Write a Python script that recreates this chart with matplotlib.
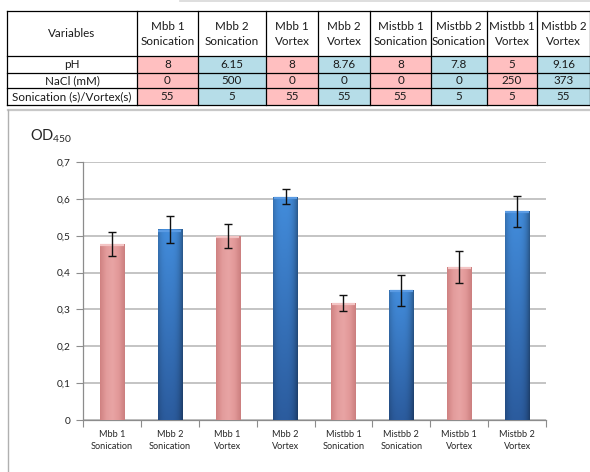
import numpy as np
import matplotlib
matplotlib.use("Agg")
import matplotlib.pyplot as plt
from matplotlib.patches import Rectangle
from matplotlib.colors import LinearSegmentedColormap

plt.rcParams['font.family'] = ['Lato', 'DejaVu Sans']
plt.rcParams['mathtext.default'] = 'regular'

# ---- data ----
strains = ["Mbb 1", "Mbb 2", "Mbb 1", "Mbb 2", "Mistbb 1", "Mistbb 2", "Mistbb 1", "Mistbb 2"]
methods = ["Sonication", "Sonication", "Vortex", "Vortex", "Sonication", "Sonication", "Vortex", "Vortex"]
ph = ["8", "6.15", "8", "8.76", "8", "7.8", "5", "9.16"]
nacl = ["0", "500", "0", "0", "0", "0", "250", "373"]
duration = ["55", "5", "55", "55", "55", "5", "5", "55"]
row_names = ["pH", "NaCl (mM)", "Sonication (s)/Vortex(s)"]
od450 = [0.478, 0.517, 0.499, 0.606, 0.318, 0.352, 0.416, 0.567]
od_err = [0.033, 0.036, 0.032, 0.021, 0.021, 0.042, 0.043, 0.042]
yticks = [0, 0.1, 0.2, 0.3, 0.4, 0.5, 0.6, 0.7]

W, H = 590, 472
fig = plt.figure(figsize=(W / 100, H / 100), dpi=100)
fig.patch.set_facecolor("white")

# ---- overlay axes in pixel coordinates (table + chart frame) ----
bg = fig.add_axes([0, 0, 1, 1])
bg.set_xlim(0, W)
bg.set_ylim(H, 0)
bg.axis("off")

col_edges = [7, 137, 198, 266, 318, 370, 431, 487, 537, 590]
row_edges = [11, 56, 73, 88, 105]
pink_cell = "#FFBFC0"
blue_cell = "#B6DDE8"
txt_col = "#1A1A1A"
fs_tab = 8.4

# header row
bg.text((col_edges[0] + col_edges[1]) / 2, (row_edges[0] + row_edges[1]) / 2, "Variables",
        ha="center", va="center", fontsize=fs_tab, color=txt_col)
for i in range(8):
    cx = (col_edges[i + 1] + col_edges[i + 2]) / 2
    bg.text(cx, (row_edges[0] + row_edges[1]) / 2 + 0.5, f"{strains[i]}\n{methods[i]}",
            ha="center", va="center", fontsize=fs_tab, color=txt_col, linespacing=1.45)

# body rows
rows = [ph, nacl, duration]
for r, vals in enumerate(rows):
    y0, y1 = row_edges[r + 1], row_edges[r + 2]
    bg.text((col_edges[0] + col_edges[1]) / 2, (y0 + y1) / 2 + 0.5, row_names[r],
            ha="center", va="center", fontsize=fs_tab, color=txt_col)
    for i, v in enumerate(vals):
        x0, x1 = col_edges[i + 1], col_edges[i + 2]
        bg.add_patch(Rectangle((x0, y0), x1 - x0, y1 - y0,
                               facecolor=pink_cell if i % 2 == 0 else blue_cell,
                               edgecolor="none", zorder=1))
        bg.text((x0 + x1) / 2, (y0 + y1) / 2 + 0.5, v, ha="center", va="center",
                fontsize=fs_tab, color=txt_col, zorder=3)

# table grid lines
for x in col_edges:
    bg.plot([x, x], [row_edges[0], row_edges[-1]], color="black", lw=0.9, zorder=2)
for y in row_edges:
    bg.plot([col_edges[0], col_edges[-1]], [y, y], color="black", lw=0.9, zorder=2)
bg.plot([180, W], [1, 1], color="#D8D8D8", lw=1.2)

# chart frame
bg.plot([8, W], [109.5, 109.5], color="#C8C8C8", lw=1.6)
bg.plot([8, 8], [109.5, H], color="#B0B0B0", lw=1.0)

# y label
bg.text(30, 136, "OD$_{450}$", ha="left", va="center", fontsize=10.5, color="#262626")

# ---- bar chart ----
L, R, T, B = 83, 546, 162, 420
ax = fig.add_axes([L / W, (H - B) / H, (R - L) / W, (B - T) / H])
ax.set_xlim(-0.5, 7.5)
ax.set_ylim(0, 0.7)
ax.set_facecolor("none")

x = np.arange(len(od450))
colors = ["#E39A9A" if i % 2 == 0 else "#3A7BCB" for i in range(len(od450))]
bars = ax.bar(x, od450, width=0.42, color=colors, edgecolor="none", zorder=3)

pink_cmap = LinearSegmentedColormap.from_list(
    "pinkbar", ["#D08282", "#E39C9C", "#E8A4A4", "#E29999", "#CC8080"])
blue_top = np.array([0.26, 0.55, 0.86])
blue_bot = np.array([0.17, 0.36, 0.62])

for i, b in enumerate(bars):
    bx, bw, bh = b.get_x(), b.get_width(), b.get_height()
    nx, ny = 40, 60
    u = np.linspace(0, 1, nx)
    edge = 1 - 0.35 * (np.abs(u - 0.45) / 0.55) ** 3
    if i % 2 == 0:
        img = pink_cmap(np.tile(u, (ny, 1)))
    else:
        v = np.linspace(0, 1, ny)[:, None]
        base = blue_bot + (blue_top - blue_bot) * v[..., None]
        img = np.clip(base * edge[None, :, None], 0, 1)
        img = np.concatenate([img, np.ones((ny, nx, 1))], axis=2)
    im = ax.imshow(img, extent=[bx, bx + bw, 0, bh], origin="lower",
                   aspect="auto", zorder=3.5, interpolation="bilinear")
    im.set_clip_path(b)
    # light cap at the top of each bar
    cap = "#F3C4C4" if i % 2 == 0 else "#5B9BE3"
    ax.plot([bx + 0.01, bx + bw - 0.01], [bh - 0.003, bh - 0.003], color=cap, lw=1.6,
            zorder=3.6, solid_capstyle="butt")

ax.errorbar(x, od450, yerr=od_err, fmt="none", ecolor="#111111", elinewidth=1.0,
            capsize=3.2, capthick=1.0, zorder=5)

ax.set_yticks(yticks)
ax.set_yticklabels([("%.1f" % t).replace(".", ",") if t else "0" for t in yticks],
                   fontsize=7.3, color="#222222")
ax.yaxis.grid(True, color="#B4B4B4", lw=1.1, zorder=0)
ax.set_axisbelow(True)

ax.set_xticks(np.arange(-0.5, 8.0, 1.0))
ax.set_xticklabels([])
ax.set_xticks(x, minor=True)
ax.set_xticklabels([f"{s}\n{m}" for s, m in zip(strains, methods)], minor=True,
                   fontsize=6.6, color="#262626", linespacing=1.45)
ax.tick_params(axis="x", which="major", length=5, color="#8C8C8C", width=0.8)
ax.tick_params(axis="x", which="minor", length=0, pad=7)
ax.tick_params(axis="y", length=5, color="#8C8C8C", width=0.8, pad=4)

for s in ["top", "right"]:
    ax.spines[s].set_visible(False)
ax.spines["left"].set_color("#8C8C8C")
ax.spines["bottom"].set_color("#8C8C8C")
ax.spines["left"].set_linewidth(0.9)
ax.spines["bottom"].set_linewidth(0.9)

fig.savefig("out.png", dpi=100, facecolor="white")
